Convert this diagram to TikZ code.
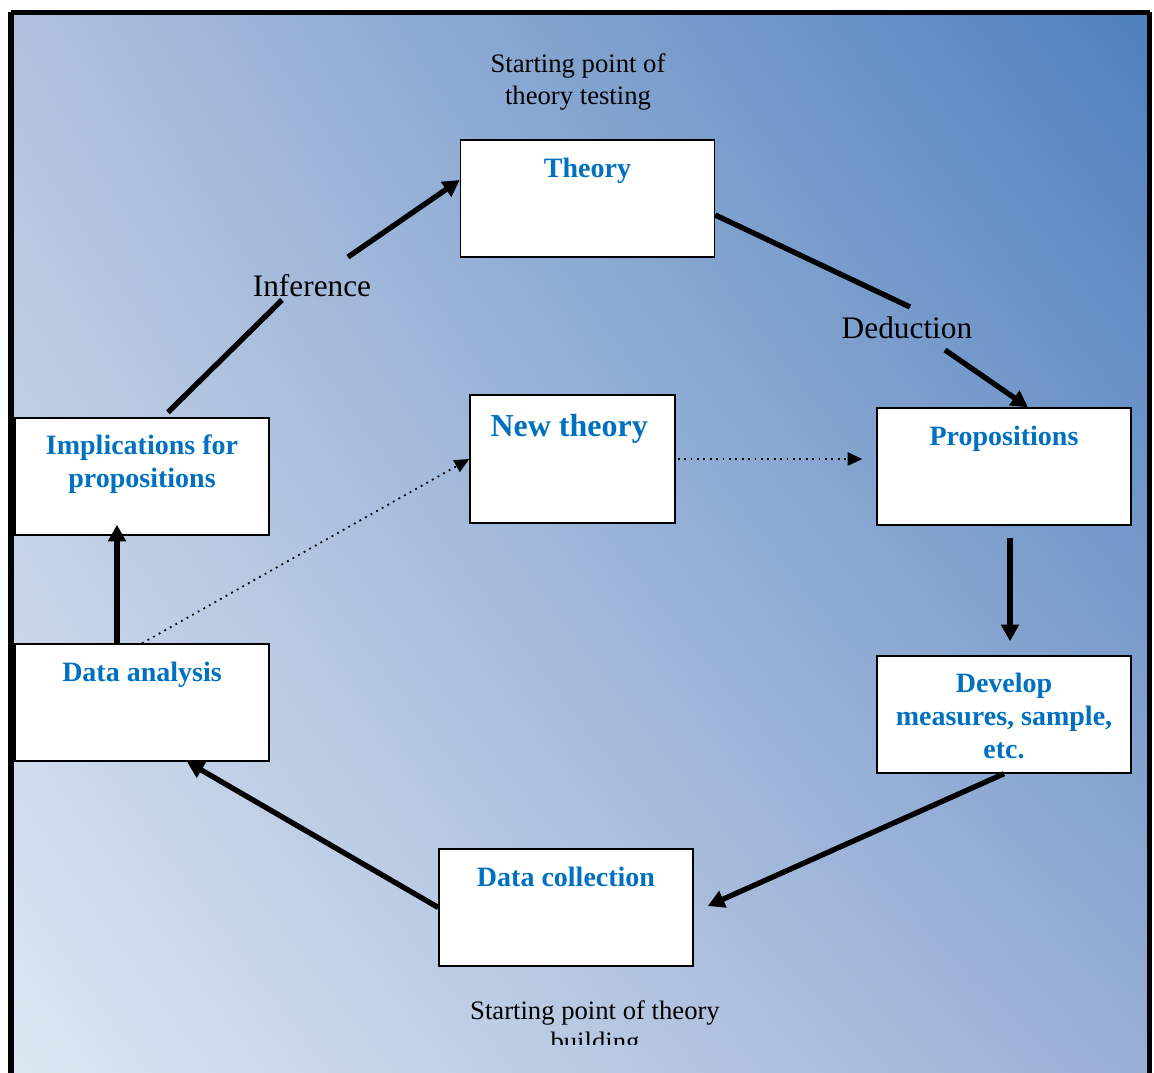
\documentclass[tikz,border=0pt]{standalone}
\usepackage{fontspec}
\setmainfont{Liberation Serif}
\usetikzlibrary{arrows.meta,calc,shadings}
\definecolor{boxblue}{HTML}{0070C0}
\definecolor{cTL}{RGB}{176,193,222}
\definecolor{cTR}{RGB}{78,128,190}
\definecolor{cBL}{RGB}{221,230,242}
\definecolor{cBR}{RGB}{152,175,213}
\begin{document}
\begin{tikzpicture}[x=0.75pt,y=-0.75pt,
  stagebox/.style={draw=black,line width=1.1pt,fill=white,minimum width=190.5pt,minimum height=87.75pt,inner sep=0pt},
  boxtext/.style={font=\fontsize{21}{24.5}\selectfont\bfseries,text=boxblue,align=center,inner sep=0pt,anchor=north},
  lbl/.style={font=\fontsize{23.5}{28}\selectfont,inner sep=0pt},
  note/.style={font=\fontsize{20}{23.3}\selectfont,align=center,inner sep=0pt},
  conn/.style={line width=4pt},
  arr/.style={conn,-{Triangle[length=12.5pt,width=13pt]}},
  dotarr/.style={line width=1.3pt,dash pattern=on 1.4pt off 3.4pt,-{Triangle[length=11pt,width=10pt]}}
]
\useasboundingbox (0,0) rectangle (1154,1073);
\clip (0,0) rectangle (1154,1073);
% background gradient and frame
\shade[upper left=cTL,upper right=cTR,lower left=cBL,lower right=cBR] (11,12) rectangle (1150,1073);
\draw[line width=3.8pt] (11,12.5) -- (1149.5,12.5) (11,12.5) -- (11,1100) (1149.5,12.5) -- (1149.5,1100);

% boxes
\node[stagebox] (theory) at (587.5,198.5) {};
\node[boxtext] (theoryT) at ([yshift=-14pt]theory.north) {Theory};
\node[stagebox] (prop) at (1004,466.5) {};
\node[boxtext] (propT) at ([yshift=-14pt]prop.north) {Propositions};
\node[stagebox] (dev) at (1004,714.5) {};
\node[boxtext] (devT) at ([yshift=-13.5pt]dev.north) {Develop\\measures, sample,\\etc.};
\node[stagebox] (coll) at (566,907.5) {};
\node[boxtext] (collT) at ([yshift=-14pt]coll.north) {Data collection};
\node[stagebox] (anal) at (142,702.5) {};
\node[boxtext] (analT) at ([yshift=-14pt]anal.north) {Data analysis};
\node[stagebox] (impl) at (142,476.5) {};
\node[boxtext] (implT) at ([yshift=-13pt]impl.north) {Implications for\\propositions};
\node[stagebox,minimum width=153.75pt,minimum height=96pt] (newt) at (572.5,459) {};
\node[boxtext,font=\fontsize{24}{28}\selectfont\bfseries] (newtT) at ([xshift=-2.5pt,yshift=-15pt]newt.north) {New theory};

% labels
\node[note] (top) at (578,82) {Starting point of\\theory testing};
\node[lbl] (ded) at (907,328) {Deduction};
\node[lbl] (inf) at (312,286) {Inference};
\begin{scope}
\clip (0,0) rectangle (1154,1044);
\node[note,anchor=north] (bot) at (595,1000) {Starting point of theory\\building};
\end{scope}

% connector break points
\coordinate (d1) at (910,307);
\coordinate (d2) at (945,350);
\coordinate (i1) at (282,300);
\coordinate (i2) at (348,257);

% connectors
\draw[conn] ($(theory.east)+(0,16.5)$) -- (d1);
\draw[arr] (d2) -- ($(prop.north)+(24,0)$);
\draw[arr] ($(prop.south)+(6,12)$) -- ($(dev.north)+(6,-14)$);
\draw[arr] (dev.south) -- ($(coll.east)+(14,-1.5)$);
\draw[arr] (coll.west) -- ($(anal.south)+(45,0)$);
\draw[arr] ($(anal.north)+(-25,0)$) -- ($(impl.south)+(-25,-11)$);
\draw[conn] ($(impl.north)+(26,-5)$) -- (i1);
\draw[arr] (i2) -- ($(theory.west)+(0,-18.5)$);
\draw[dotarr] (anal.north) -- (newt.west);
\draw[dotarr] ($(newt.east)+(2,0)$) -- ($(prop.west)+(-14,-7.5)$);
\end{tikzpicture}
\end{document}
